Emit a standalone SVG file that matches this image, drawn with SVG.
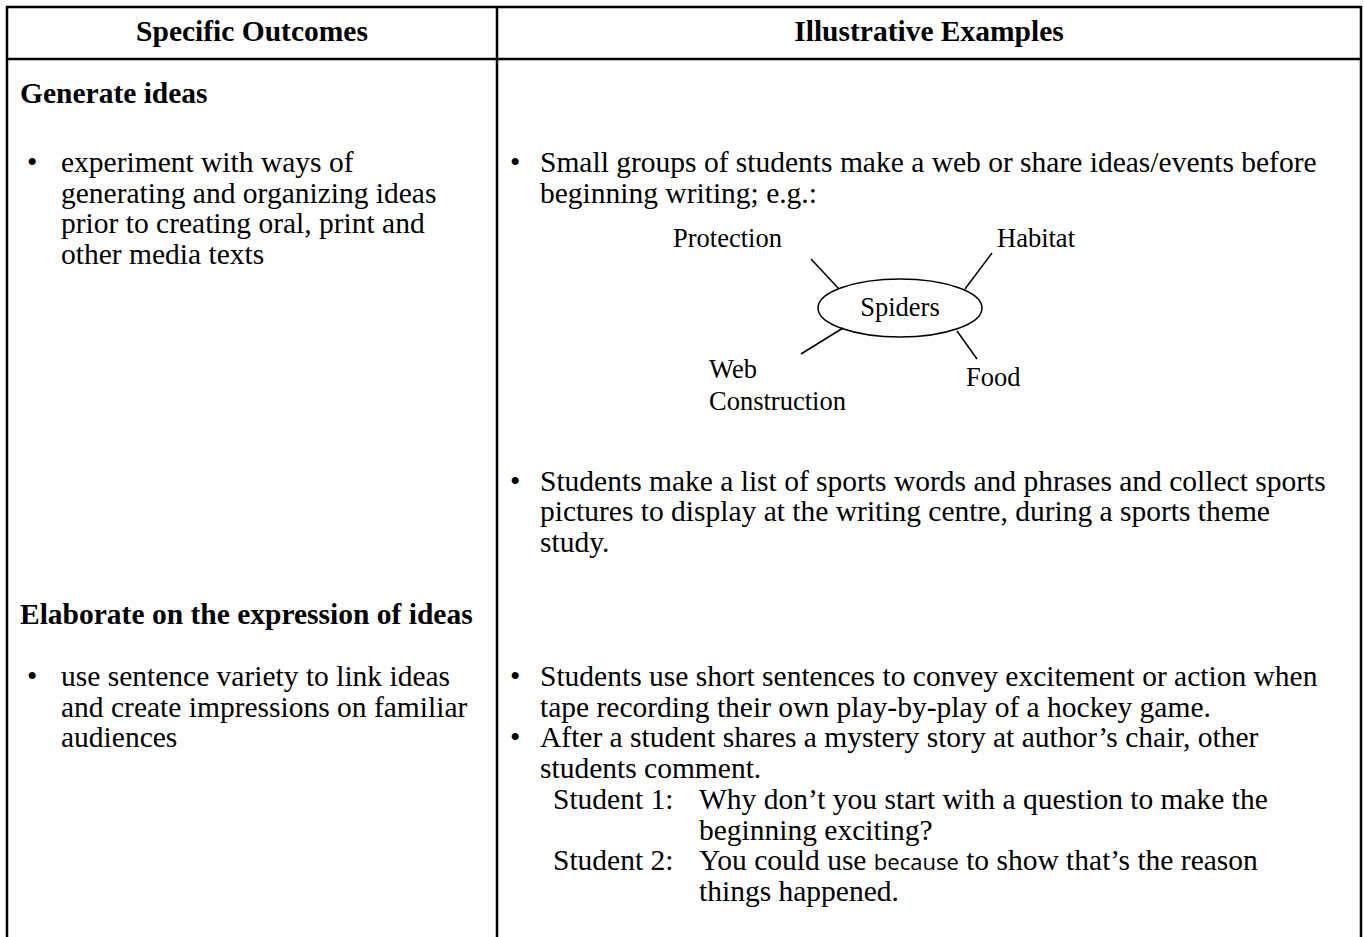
<svg xmlns="http://www.w3.org/2000/svg" width="1364" height="937" viewBox="0 0 1364 937">
<style>
.t{font-family:"Liberation Serif","Times New Roman",serif;font-size:29.5px;fill:#000}
.b{font-family:"Liberation Serif","Times New Roman",serif;font-size:29.5px;font-weight:bold;fill:#000}
.m{font-family:"Liberation Serif","Times New Roman",serif;font-size:26.5px;fill:#000}
.s{font-family:"Open Sans","DejaVu Sans",sans-serif;font-size:22px;fill:#000}
.ln{stroke:#000;stroke-width:2.5;fill:none}
.sp{stroke:#000;stroke-width:1.5;fill:none}
</style>
<rect width="1364" height="937" fill="#fff"/>
<g id="table">
<line class="ln" x1="6" y1="7" x2="1362" y2="7"/>
<line class="ln" x1="6" y1="59" x2="1362" y2="59"/>
<line class="ln" x1="7" y1="6" x2="7" y2="937"/>
<line class="ln" x1="497" y1="6" x2="497" y2="937"/>
<line class="ln" x1="1361" y1="6" x2="1361" y2="937"/>
</g>
<g id="headers">
<text class="b" x="252" y="41" text-anchor="middle">Specific Outcomes</text>
<text class="b" x="929" y="41" text-anchor="middle">Illustrative Examples</text>
</g>
<g id="left-col">
<text class="b" x="20" y="103">Generate ideas</text>
<text class="t" x="27" y="172">•</text>
<text class="t" x="61" y="172">experiment with ways of</text>
<text class="t" x="61" y="202.7">generating and organizing ideas</text>
<text class="t" x="61" y="233.4">prior to creating oral, print and</text>
<text class="t" x="61" y="264">other media texts</text>
<text class="b" x="20" y="624">Elaborate on the expression of ideas</text>
<text class="t" x="27" y="686">•</text>
<text class="t" x="61" y="686">use sentence variety to link ideas</text>
<text class="t" x="61" y="716.7">and create impressions on familiar</text>
<text class="t" x="61" y="747.4">audiences</text>
</g>
<g id="right-col">
<text class="t" x="510" y="172">•</text>
<text class="t" x="540" y="172">Small groups of students make a web or share ideas/events before</text>
<text class="t" x="540" y="202.7">beginning writing; e.g.:</text>
<text class="t" x="510" y="490.6">•</text>
<text class="t" x="540" y="490.6">Students make a list of sports words and phrases and collect sports</text>
<text class="t" x="540" y="521.3">pictures to display at the writing centre, during a sports theme</text>
<text class="t" x="540" y="552">study.</text>
<text class="t" x="510" y="686">•</text>
<text class="t" x="540" y="686">Students use short sentences to convey excitement or action when</text>
<text class="t" x="540" y="716.7">tape recording their own play-by-play of a hockey game.</text>
<text class="t" x="510" y="747.4">•</text>
<text class="t" x="540" y="747.4">After a student shares a mystery story at author’s chair, other</text>
<text class="t" x="540" y="778.1">students comment.</text>
<text class="t" x="553" y="808.8">Student 1:</text>
<text class="t" x="699" y="808.8">Why don’t you start with a question to make the</text>
<text class="t" x="699" y="839.5">beginning exciting?</text>
<text class="t" x="553" y="870.2">Student 2:</text>
<text class="t" x="699" y="870.2">You could use <tspan class="s">because</tspan> to show that’s the reason</text>
<text class="t" x="699" y="900.9">things happened.</text>
</g>
<g id="connectors">
<line class="sp" x1="811" y1="259" x2="839" y2="289"/>
<line class="sp" x1="992" y1="253" x2="965" y2="289"/>
<line class="sp" x1="843" y1="328" x2="801" y2="354"/>
<line class="sp" x1="957" y1="331" x2="977" y2="359"/>
</g>
<g id="spiders">
<ellipse class="sp" cx="900" cy="308" rx="82" ry="29"/>
<text class="m" x="900" y="316" text-anchor="middle">Spiders</text>
</g>
<g id="protection"><text class="m" x="673" y="247">Protection</text></g>
<g id="habitat"><text class="m" x="997" y="247">Habitat</text></g>
<g id="web"><text class="m" x="709" y="378">Web</text><text class="m" x="709" y="410">Construction</text></g>
<g id="food"><text class="m" x="966" y="386">Food</text></g>
</svg>
